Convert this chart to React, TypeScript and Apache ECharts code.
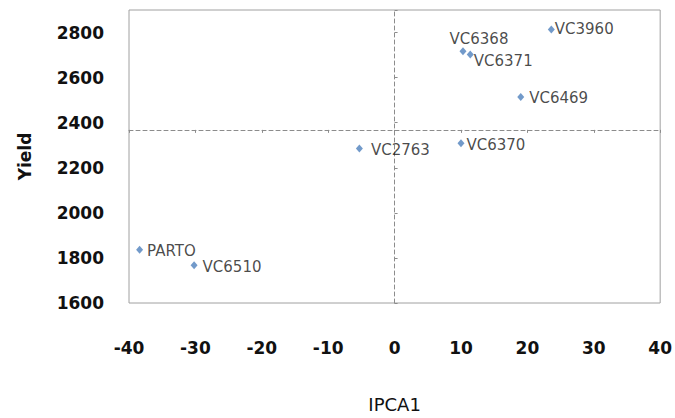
import React, { useEffect, useRef } from "react";
import * as echarts from "echarts";

const names = ["VC3960", "VC6368", "VC6371", "VC6469", "VC6370", "VC2763", "PARTO", "VC6510"];
const ipca1 = [23.6, 10.3, 11.4, 19.0, 10.0, -5.3, -38.4, -30.2];
const yields = [2813, 2717, 2703, 2514, 2309, 2286, 1836, 1767];

const xMin = -40;
const xMax = 40;
const xStep = 10;
const yMin = 1600;
const yMax = 2900;
const yStep = 200;

const meanYield = yields.reduce((a, b) => a + b, 0) / yields.length;

type LabelStyle = { position: string; distance: number; offset: [number, number] };
const labelLayout: Record<string, LabelStyle> = {
  VC3960: { position: "right", distance: 0, offset: [0, -1] },
  VC6368: { position: "top", distance: 1, offset: [16, 0] },
  VC6371: { position: "right", distance: 0, offset: [0, 7] },
  VC6469: { position: "right", distance: 5, offset: [0, 1] },
  VC6370: { position: "right", distance: 2, offset: [0, 2] },
  VC2763: { position: "right", distance: 8, offset: [0, 2] },
  PARTO: { position: "right", distance: 4, offset: [0, 1] },
  VC6510: { position: "right", distance: 5, offset: [0, 2] },
};

const dashColor = "#8c8c8c";
const tickFont = { fontFamily: "DejaVu Sans", fontWeight: "bold" as const, fontSize: 17, color: "#111" };
const plain = (v: number) => String(v);

export default function App() {
  const ref = useRef<HTMLDivElement>(null);
  useEffect(() => {
    if (!ref.current) return;
    const chart = echarts.init(ref.current, undefined, { renderer: "svg" });
    chart.setOption({
      animation: false,
      backgroundColor: "#fff",
      grid: {
        left: 129,
        top: 10,
        right: 14,
        bottom: 114,
        show: true,
        borderColor: "#a0a0a0",
        borderWidth: 1,
        backgroundColor: "transparent",
      },
      xAxis: [
        {
          type: "value",
          min: xMin,
          max: xMax,
          interval: xStep,
          position: "bottom",
          axisLine: { show: false, onZero: false },
          axisTick: { show: false },
          splitLine: { show: false },
          axisLabel: { ...tickFont, margin: 36, formatter: plain },
          name: "IPCA1",
          nameLocation: "middle",
          nameGap: 92,
          nameTextStyle: { fontFamily: "DejaVu Sans", fontSize: 18, color: "#111" },
        },
        {
          type: "value",
          min: xMin,
          max: xMax,
          interval: xStep,
          position: "bottom",
          axisLine: {
            show: true,
            onZero: true,
            onZeroAxisIndex: 2,
            lineStyle: { color: dashColor, type: [4, 3], width: 1 },
          },
          axisTick: { show: true, inside: false, length: 3, lineStyle: { color: dashColor } },
          axisLabel: { show: false },
          splitLine: { show: false },
        },
      ],
      yAxis: [
        {
          type: "value",
          min: yMin,
          max: yMax,
          interval: yStep,
          axisLine: { show: false, onZero: false },
          axisTick: { show: false },
          splitLine: { show: false },
          axisLabel: { ...tickFont, margin: 25, showMaxLabel: false, formatter: plain },
          name: "Yield",
          nameLocation: "middle",
          nameGap: 96,
          nameRotate: 90,
          nameTextStyle: { fontFamily: "DejaVu Sans", fontWeight: "bold", fontSize: 17, color: "#111" },
        },
        {
          type: "value",
          min: yMin,
          max: yMax,
          interval: yStep,
          axisLine: {
            show: true,
            onZero: true,
            onZeroAxisIndex: 0,
            lineStyle: { color: dashColor, type: [4, 3], width: 1 },
          },
          axisTick: { show: true, inside: false, length: 3, lineStyle: { color: dashColor } },
          axisLabel: { show: false },
          splitLine: { show: false },
        },
        {
          type: "value",
          min: yMin - meanYield,
          max: yMax - meanYield,
          show: false,
          axisLine: { onZero: false },
          splitLine: { show: false },
        },
      ],
      series: [
        {
          type: "scatter",
          xAxisIndex: 0,
          yAxisIndex: 0,
          symbol: "diamond",
          symbolSize: [7, 8],
          itemStyle: { color: "#4F81BD" },
          data: names.map((n, i) => {
            const l = labelLayout[n];
            return {
              name: n,
              value: [ipca1[i], yields[i]],
              label: {
                show: true,
                formatter: "{b}",
                position: l.position,
                distance: l.distance,
                offset: l.offset,
                fontFamily: "DejaVu Sans",
                fontSize: 15,
                color: "#1a1a1a",
              },
            };
          }),
        },
      ],
    });
    return () => chart.dispose();
  }, []);
  return (
    <div
      ref={ref}
      style={{ position: "fixed", left: 0, top: 0, width: 675, height: 418, background: "#fff" }}
    />
  );
}
